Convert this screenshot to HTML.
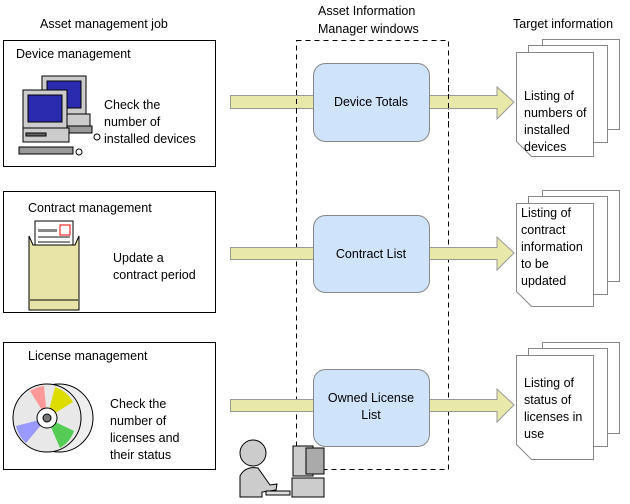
<!DOCTYPE html>
<html><head><style>
body{margin:0;background:#fff}
svg{display:block}
text{font-family:"Liberation Sans",sans-serif;font-size:12.5px;fill:#000}
</style></head><body>
<svg width="630" height="504" viewBox="0 0 630 504" xmlns="http://www.w3.org/2000/svg">
<text x="40" y="28">Asset management job</text>
<text x="318" y="15">Asset Information</text>
<text x="318" y="33">Manager windows</text>
<text x="513" y="28">Target information</text>

<!-- left boxes -->
<rect x="3.5" y="40.5" width="212" height="126" fill="#fff" stroke="#000"/>
<rect x="3.5" y="191.5" width="212" height="121" fill="#fff" stroke="#000"/>
<rect x="3.5" y="342.5" width="212" height="127" fill="#fff" stroke="#000"/>
<text x="16" y="58">Device management</text>
<text x="28" y="212">Contract management</text>
<text x="28" y="360">License management</text>
<text x="104" y="109">Check the</text>
<text x="104" y="126">number of</text>
<text x="104" y="143">installed devices</text>
<text x="113" y="262">Update a</text>
<text x="113" y="279">contract period</text>
<text x="110" y="408">Check the</text>
<text x="110" y="425">number of</text>
<text x="110" y="442">licenses and</text>
<text x="110" y="459">their status</text>

<!-- computers -->
<g stroke="#000" stroke-width="1">
<rect x="42" y="76" width="44" height="38" fill="#ccc"/>
<rect x="47" y="81" width="34" height="27" fill="#2b2bb0"/>
<rect x="44" y="114" width="46" height="12" fill="#ccc"/>
<rect x="36" y="126" width="56" height="7" fill="#999"/>
<rect x="23" y="90" width="44" height="38" fill="#ccc"/>
<rect x="28" y="95" width="34" height="27" fill="#2b2bb0"/>
<rect x="23" y="128" width="46" height="14" fill="#ccc"/>
<rect x="26" y="133" width="20" height="3" fill="#666"/>
<rect x="19" y="147" width="54" height="7" fill="#999"/>
<circle cx="97" cy="137" r="3" fill="#fff"/>
<circle cx="79" cy="152" r="3" fill="#fff"/>
</g>

<!-- envelope -->
<g stroke="#000">
<rect x="35" y="221" width="38" height="27" fill="#fff"/>
<rect x="60" y="225" width="10" height="10" fill="none" stroke="#e00"/>
<path d="M29,236 L29,310 L79,310 L79,236 L75,245 L33,245 Z" fill="#e8e4a8"/>
<line x1="30" y1="300" x2="78" y2="300"/>
</g>
<rect x="38" y="229" width="19" height="3" fill="#888"/>
<rect x="38" y="236" width="32" height="2" fill="#888"/>
<rect x="38" y="241" width="32" height="2" fill="#888"/>

<!-- CDs -->
<g stroke="#000">
<circle cx="59" cy="418" r="34" fill="#eee"/>
<circle cx="47" cy="418" r="34" fill="#e8e8e8"/>
<path d="M47,418 L30,391 A32,32 0 0 1 44,386 Z" fill="#f99" stroke="none"/>
<path d="M47,418 L55,387 A32,32 0 0 1 73,402 Z" fill="#dd0" stroke="none"/>
<path d="M47,418 L74,431 A32,32 0 0 1 60,448 Z" fill="#5c5" stroke="none"/>
<path d="M47,418 L26,443 A32,32 0 0 1 16,426 Z" fill="#99f" stroke="none"/>
<circle cx="47" cy="418" r="10" fill="#fff"/>
<circle cx="47" cy="418" r="4" fill="#777"/>
</g>

<!-- dashed box -->
<rect x="296.5" y="40.5" width="152" height="429" fill="none" stroke="#000" stroke-dasharray="5,4"/>

<!-- arrows -->
<g fill="#e8e8a8" stroke="#999">
<rect x="230.5" y="95.5" width="83" height="13"/>
<rect x="230.5" y="247.5" width="83" height="12"/>
<rect x="230.5" y="399.5" width="83" height="12"/>
<path d="M429,95.5 H497 V87 L514,102 L497,119 V108.5 H429 Z"/>
<path d="M429,247.5 H497 V237 L514,253 L497,270 V259.5 H429 Z"/>
<path d="M429,399.5 H497 V389 L514,405 L497,422 V411.5 H429 Z"/>
</g>
<g stroke="#000" stroke-dasharray="5,4"><line x1="296.5" y1="90" x2="296.5" y2="120"/><line x1="448.5" y1="85" x2="448.5" y2="125"/></g>

<!-- window boxes -->
<g fill="#cfe3fb" stroke="#888">
<rect x="313.5" y="63.5" width="116" height="78" rx="12"/>
<rect x="313.5" y="215.5" width="116" height="77" rx="12"/>
<rect x="313.5" y="369.5" width="116" height="77" rx="12"/>
</g>
<text x="371" y="106" text-anchor="middle">Device Totals</text>
<text x="371" y="258" text-anchor="middle">Contract List</text>
<text x="371" y="402" text-anchor="middle">Owned License</text>
<text x="371" y="419" text-anchor="middle">List</text>

<!-- docs -->
<g fill="#fff" stroke="#888">
<rect x="542.5" y="39.5" width="77" height="90"/>
<rect x="528.5" y="45.5" width="79" height="97"/>
<path d="M516.5,52.5 H593.5 V156.5 H531.5 L516.5,141.5 Z"/>
<rect x="542.5" y="190.5" width="77" height="91"/>
<rect x="528.5" y="196.5" width="79" height="98"/>
<path d="M516.5,203.5 H593.5 V306.5 H531.5 L516.5,291.5 Z"/>
<rect x="542.5" y="342.5" width="77" height="91"/>
<rect x="528.5" y="348.5" width="79" height="98"/>
<path d="M516.5,355.5 H593.5 V459.5 H531.5 L516.5,444.5 Z"/>
</g>
<text x="524" y="100">Listing of</text>
<text x="524" y="117">numbers of</text>
<text x="524" y="134">installed</text>
<text x="524" y="151">devices</text>
<text x="521" y="217">Listing of</text>
<text x="521" y="234">contract</text>
<text x="521" y="251">information</text>
<text x="521" y="268">to be</text>
<text x="521" y="285">updated</text>
<text x="524" y="387">Listing of</text>
<text x="524" y="404">status of</text>
<text x="524" y="421">licenses in</text>
<text x="524" y="438">use</text>

<!-- person & computer -->
<g stroke="#000" fill="#ccc">
<circle cx="253" cy="453" r="13"/>
<path d="M240,497 V476 Q245,466 258,468 L270,485 L277,484 L276,490 L262,492 L262,497 Z"/>
<rect x="266" y="491" width="24" height="4" fill="#ddd"/>
<rect x="293" y="446" width="20" height="30"/>
<rect x="306" y="448" width="18" height="26" fill="#aaa"/>
<rect x="292" y="478" width="32" height="19"/>
</g>
</svg>
</body></html>
